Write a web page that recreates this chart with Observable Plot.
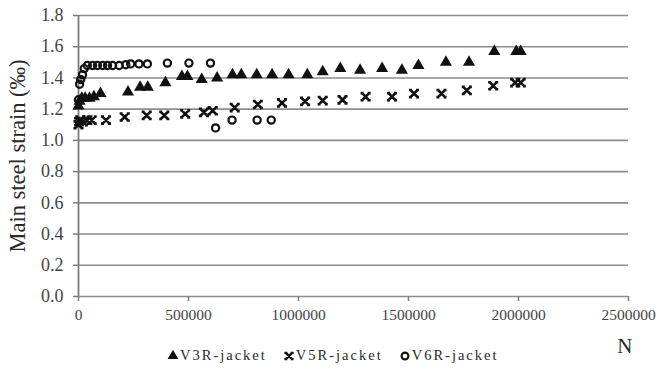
<!DOCTYPE html>
<html>
<head>
<meta charset="utf-8">
<script src="https://cdn.jsdelivr.net/npm/d3@7"></script>
<script src="https://cdn.jsdelivr.net/npm/@observablehq/plot@0.6"></script>
<style>
  html, body { margin: 0; padding: 0; background: #fff; }
  #chart { position: relative; width: 662px; height: 372px; font-family: "Liberation Serif", "DejaVu Serif", serif; }
  #legend { position: absolute; left: 167px; top: 347px; display: flex; gap: 16px; font-size: 14.5px; letter-spacing: 2px; color: #2a2a2a; }
  #legend span.item { display: inline-flex; align-items: center; white-space: nowrap; }
  #legend svg { margin-right: 1px; }
</style>
</head>
<body>
<div id="chart"></div>
<script>
// Load cycles N and measured main steel strain (‰) for each jacketed specimen
const v3rCycles = [0, 5000, 15000, 30000, 50000, 70000, 100000, 225000, 280000, 315000, 395000, 470000, 495000, 560000, 630000,
  700000, 740000, 810000, 880000, 955000, 1040000, 1110000, 1190000, 1280000, 1380000, 1470000, 1545000, 1670000, 1775000, 1890000, 1990000, 2010000];
const v3rStrain = [1.22, 1.25, 1.27, 1.27, 1.27, 1.28, 1.30, 1.31, 1.34, 1.34, 1.37, 1.41, 1.41, 1.39, 1.40,
  1.42, 1.42, 1.42, 1.42, 1.42, 1.42, 1.44, 1.46, 1.45, 1.46, 1.45, 1.48, 1.50, 1.50, 1.57, 1.57, 1.57];

const v5rCycles = [0, 3000, 8000, 20000, 40000, 60000, 125000, 210000, 310000, 390000, 485000, 570000, 610000, 710000,
  815000, 925000, 1030000, 1110000, 1200000, 1305000, 1425000, 1525000, 1650000, 1765000, 1885000, 1985000, 2010000];
const v5rStrain = [1.10, 1.12, 1.13, 1.12, 1.13, 1.13, 1.13, 1.15, 1.16, 1.16, 1.17, 1.18, 1.19, 1.21,
  1.23, 1.24, 1.25, 1.255, 1.26, 1.28, 1.28, 1.30, 1.30, 1.32, 1.35, 1.37, 1.37];

const v6rCycles = [0, 5000, 10000, 18000, 26000, 40000, 64000, 86000, 110000, 132000, 155000, 185000, 215000, 237000,
  275000, 313000, 404000, 502000, 600000, 623000, 698000, 812000, 876000];
const v6rStrain = [1.26, 1.36, 1.39, 1.42, 1.46, 1.48, 1.48, 1.48, 1.48, 1.48, 1.48, 1.48, 1.485, 1.49,
  1.49, 1.49, 1.495, 1.495, 1.495, 1.08, 1.13, 1.13, 1.13];

const seriesNames = ["V3R-jacket", "V5R-jacket", "V6R-jacket"];
const xTicks = [0, 500000, 1000000, 1500000, 2000000, 2500000];
const yTicks = [0, 0.2, 0.4, 0.6, 0.8, 1.0, 1.2, 1.4, 1.6, 1.8];

// Heavy "x" marker with short horizontal serifs at its four ends
const boldCross = {
  draw(context, size) {
    const h = Math.sqrt(size) * 0.5;
    const c = 1.5;
    context.moveTo(-h, -h); context.lineTo(h, h);
    context.moveTo(-h, h); context.lineTo(h, -h);
    for (const [sx, sy] of [[-h, -h], [h, -h], [-h, h], [h, h]]) {
      context.moveTo(sx - c, sy); context.lineTo(sx + c, sy);
    }
  }
};

const rows = (cycles, strain, name) => cycles.map((n, i) => ({n, strain: strain[i], series: name}));
const v3r = rows(v3rCycles, v3rStrain, seriesNames[0]);
const v5r = rows(v5rCycles, v5rStrain, seriesNames[1]);
const v6r = rows(v6rCycles, v6rStrain, seriesNames[2]);

const ink = "#2a2a2a";
const gridGray = "#8d8d8d";

const plot = Plot.plot({
  width: 662,
  height: 372,
  marginLeft: 78,
  marginRight: 34,
  marginTop: 15,
  marginBottom: 76,
  style: {fontFamily: "'Liberation Serif', 'DejaVu Serif', serif", color: ink, background: "#fff"},
  x: {domain: [0, 2500000]},
  y: {domain: [0, 1.8]},
  marks: [
    Plot.gridY(yTicks, {stroke: gridGray, strokeOpacity: 1, strokeWidth: 1.6}),
    Plot.ruleX([0], {stroke: "#7c7c7c", strokeWidth: 1.8}),
    Plot.axisY(yTicks, {
      tickFormat: d3.format(".1f"), tickSize: 5, tickPadding: 10, fontSize: 18,
      stroke: "#7c7c7c", strokeWidth: 1.5, fill: "#444", label: null
    }),
    Plot.axisY({
      ticks: [], label: "Main steel strain (‰)", labelAnchor: "center", labelArrow: "none",
      labelOffset: 69, fontSize: 22.5, fill: ink, letterSpacing: 0.6
    }),
    Plot.axisX(xTicks, {
      tickFormat: d => String(d), tickSize: 5, tickPadding: 7, fontSize: 15.5,
      stroke: "#7c7c7c", strokeWidth: 1.5, fill: "#444", label: null
    }),
    Plot.text(["N"], {frameAnchor: "bottom-right", dx: 4, dy: 56, fontSize: 21, fill: ink}),
    Plot.dot(v6r, {x: "n", y: "strain", symbol: "circle", r: 3.6, stroke: "#111", strokeWidth: 2.2, fill: "none"}),
    Plot.dot(v5r, {x: "n", y: "strain", symbol: boldCross, r: 4, stroke: "#111", strokeWidth: 2.6, fill: "none"}),
    Plot.dot(v3r, {x: "n", y: "strain", symbol: "triangle", r: 4.5, fill: "#111", stroke: "none"})
  ]
});

const chart = document.getElementById("chart");
chart.appendChild(plot);

// Legend row beneath the axis
const legendSymbols = [
  {sym: d3.symbolTriangle, fill: "#111", stroke: "none", sw: 0, r: 4},
  {sym: boldCross, fill: "none", stroke: "#111", sw: 2.4, r: 3.5},
  {sym: d3.symbolCircle, fill: "none", stroke: "#111", sw: 2.1, r: 3.4}
];
const legend = d3.select(chart).append("div").attr("id", "legend");
seriesNames.forEach((name, i) => {
  const s = legendSymbols[i];
  const item = legend.append("span").attr("class", "item");
  item.append("svg").attr("width", 12).attr("height", 12)
    .append("path")
    .attr("transform", "translate(6,6)")
    .attr("d", d3.symbol(s.sym, Math.PI * s.r * s.r)())
    .attr("fill", s.fill).attr("stroke", s.stroke).attr("stroke-width", s.sw);
  item.append("span").text(name);
});
</script>
</body>
</html>
